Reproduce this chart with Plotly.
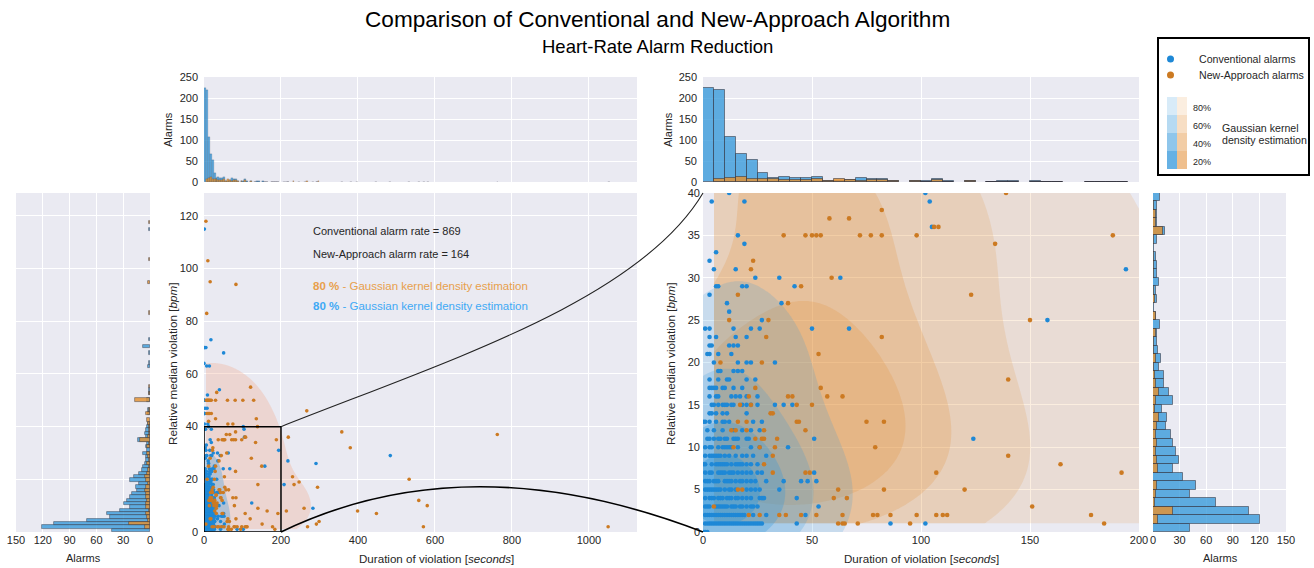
import numpy as np
import plotly.graph_objects as go

W, H = 1314, 568
FONT = "Liberation Sans, Arial, Helvetica, sans-serif"
TXT = "#262626"
BG = "#EAEAF2"

# ------------------------------------------------------------------ data
# Conventional alarms: relative median violation levels (bpm) and the
# durations (s) of the alarms seen at each level
conv_levels = [0, 1, 2, 3, 4, 5, 6, 7, 8, 9, 10, 11, 12, 13, 14, 15, 16, 17, 18, 19, 20,
               21, 22, 23, 24, 25, 26, 27, 28, 29, 30, 31, 32, 33, 34, 35, 36, 39, 40, 41,
               45, 47, 50, 52, 54, 63, 64, 68, 70, 73, 115]
conv_x_at_level = [
    [0, 1, 2],
    [1, 2, 3, 4, 5, 6, 7, 8, 9, 10, 11, 12, 13, 14, 15, 16, 17, 18, 19, 20, 21, 22, 23, 24, 25, 26, 27, 43, 86, 102],
    [1, 2, 3, 4, 5, 6, 7, 8, 9, 10, 11, 12, 13, 14, 15, 16, 17, 18, 19, 23, 29, 47],
    [1, 2, 3, 6, 7, 8, 9, 10, 11, 13, 14, 15, 17, 18, 20, 22, 23, 25, 53],
    [1, 3, 4, 5, 7, 8, 9, 11, 12, 13, 15, 16, 18, 20, 22, 26, 27, 28, 43],
    [1, 2, 3, 4, 5, 6, 7, 8, 10, 12, 13, 15, 20, 22, 24, 26, 35],
    [1, 2, 3, 5, 6, 7, 10, 11, 12, 13, 15, 17, 18, 20, 22, 24, 29, 37, 45, 48, 52],
    [1, 3, 4, 7, 8, 9, 10, 12, 13, 14, 16, 18, 20, 22, 25, 27, 51],
    [0, 1, 4, 6, 7, 8, 9, 10, 11, 13, 15, 16, 17, 18, 20, 22, 25],
    [1, 3, 4, 5, 6, 7, 8, 10, 12, 15, 18, 20, 23, 29, 283],
    [1, 3, 4, 7, 9, 10, 11, 12, 13, 16, 22, 26, 39],
    [2, 3, 5, 7, 8, 10, 11, 14, 15, 16, 20, 21, 51, 124],
    [2, 5, 9, 14, 18, 22, 26],
    [0, 1, 3, 6, 9, 10, 12, 23, 27],
    [3, 4, 6, 9, 11, 20],
    [4, 5, 7, 9, 10, 11, 13, 14, 18, 20, 22, 25, 33, 37, 41],
    [3, 6, 7, 13, 15, 17, 20, 25],
    [3, 4, 5, 6, 9, 10, 14, 18],
    [3, 7, 11, 12, 20, 24, 208],
    [7, 8, 14, 16, 18],
    [5, 16, 20, 22, 33],
    [2, 3, 7, 13],
    [3, 4, 12, 14, 16],
    [3, 6, 15, 20],
    [1, 3, 14, 22, 26, 50, 67],
    [27, 158],
    [12, 291],
    [11, 36, 218],
    [3],
    [6, 7, 18, 20, 42, 484],
    [24, 35, 63],
    [5, 15, 194],
    [3],
    [6],
    [19],
    [16],
    [105],
    [4, 19, 104],
    [12, 102],
    [1, 10],
    [1, 2],
    [3, 8],
    [0, 1, 2],
    [9],
    [40],
    [7, 14],
    [0],
    [51],
    [1, 5],
    [18],
    [1],
]

# New-Approach alarms
new_levels = [1, 2, 3, 4, 5, 7, 8, 9, 10, 11, 12, 13, 14, 15, 16, 17, 18, 19, 20, 21, 23,
              25, 27, 28, 29, 30, 31, 32, 34, 35, 36, 37, 38, 40, 41, 42, 43, 45, 46, 50,
              53, 55, 83, 94, 95, 103, 118]
new_x_at_level = [
    [62, 64, 65, 71, 95, 184],
    [21, 26, 35, 38, 45, 52, 64, 78, 80, 86, 98, 107, 110, 112, 178, 269, 570, 1050],
    [5, 151, 292],
    [60, 66, 299],
    [16, 18, 62, 83, 120],
    [32, 47, 49, 107, 192, 448],
    [28, 164, 214, 399],
    [32, 140, 260],
    [14, 26, 33, 79, 580],
    [24, 27, 28, 34],
    [13, 15, 20, 28, 47, 558],
    [16, 20, 43, 44, 75, 83],
    [31, 32],
    [17, 22, 43, 50],
    [21, 39, 41, 57, 64],
    [24, 54, 295],
    [140, 234],
    [247],
    [8, 27, 533],
    [53, 230],
    [29, 82],
    [12, 30, 150],
    [39],
    [16, 123],
    [45],
    [59],
    [22],
    [23, 380],
    [134],
    [37, 47, 50, 52, 54, 72, 77, 82, 98, 188],
    [106, 108, 219],
    [58, 67, 762],
    [82, 358],
    [139],
    [62, 75],
    [12],
    [30, 136],
    [8, 11, 14, 19],
    [267],
    [6, 8, 10, 12, 14, 16, 19, 30, 61, 81, 101, 129],
    [33],
    [121],
    [7],
    [83],
    [16],
    [10],
    [5],
]

# Histogram of duration, 5 s bins from 0 to 200 s
dur_bin_width = 5
conv_dur_counts = [224, 218, 106, 66, 52, 22, 10, 13, 10, 9, 13, 3, 2, 4, 9, 6, 6, 3, 0, 2,
                   3, 6, 2, 0, 2, 0, 1, 2, 2, 0, 2, 1, 1, 0, 0, 1, 1, 1, 1, 0]
new_dur_counts = [0, 8, 9, 13, 8, 8, 8, 5, 5, 5, 6, 2, 6, 4, 2, 5, 5, 2, 0, 2,
                  1, 4, 1, 0, 2, 0, 1, 1, 1, 0, 1, 1, 1, 0, 0, 1, 1, 1, 1, 0]

# Histogram of violation, 1 bpm bins from 0 to 40 bpm (zoomed view)
viol_bin_width = 1
conv_viol_counts = [42, 121, 108, 71, 42, 48, 34, 22, 29, 26, 22, 20, 15, 16, 10, 22, 18, 12, 12, 7,
                    9, 6, 5, 5, 8, 3, 1, 4, 3, 7, 5, 4, 3, 1, 4, 13, 5, 4, 5, 8]
new_viol_counts = [0, 6, 23, 2, 3, 5, 0, 6, 4, 3, 5, 3, 5, 7, 2, 3, 7, 3, 2, 1,
                   3, 1, 1, 3, 0, 3, 0, 2, 1, 0, 1, 1, 1, 0, 1, 11, 3, 3, 1, 0]

# Histogram of violation over the full range (left panel)
left_bin_width = 1.27
conv_left_counts = ([42, 121, 107, 71, 45, 48, 34, 22, 29, 26, 22, 20, 15, 16, 12, 22, 18, 12, 9, 8,
                     6, 5, 5, 8, 3, 4, 3, 13, 4, 6, 4, 3]
                    + [2, 0, 0, 2, 2, 0, 0, 3, 0, 1, 1, 0, 0, 0, 0, 0]
                    + [0, 2, 1, 0, 0, 1, 0, 8, 0, 1, 0, 0, 0, 0, 0, 0]
                    + [0] * 16
                    + [0, 0, 0, 0, 0, 0, 0, 0, 0, 0, 1, 0, 0, 0])
new_left_counts = ([0, 6, 23, 2, 3, 5, 1, 5, 4, 3, 5, 4, 6, 5, 2, 5, 6, 3, 2, 1,
                    3, 1, 2, 3, 0, 3, 1, 11, 2, 1, 1, 1]
                   + [2, 3, 0, 4, 1, 0, 0, 17, 0, 1, 0, 1, 0, 0, 0, 0]
                   + [0] * 16
                   + [0, 1, 0, 0, 0, 0, 0, 0, 0, 0, 2, 0, 0, 0, 0, 0]
                   + [0, 1, 0, 0, 0, 0, 0, 0, 0, 0, 0, 0, 1, 0])

conv_rate = 869
new_rate = 164
kde_probs = [0.8, 0.6, 0.4, 0.2]
kde_labels = ["80%", "60%", "40%", "20%"]

# ------------------------------------------------------------------ styles
BLUE_PT = "rgb(30,136,214)"
ORANGE_PT = "rgb(204,122,34)"
BLUE_BAR = "rgba(52,152,219,0.78)"
ORANGE_BAR = "rgba(228,145,48,0.82)"
BAR_EDGE = "rgba(50,50,60,0.55)"
BLUE_RGB = (52, 152, 219)
ORANGE_RGB = (226, 140, 50)
MAIN_ORANGE_RGB = (240, 168, 140)
BLUE_ALPHAS = [0.19, 0.21, 0.30, 0.45]
ORANGE_ALPHAS = [0.15, 0.16, 0.21, 0.21]
# kernels: conventional uses a fixed diagonal bandwidth, New-Approach uses
# Scott's rule on the (weighted) data covariance
CONV_BW = (25, 5.2)
NEW_BW_ADJUST = 0.85

# panel pixel boxes: (left, right, top, bottom)
LH = (16, 150, 193, 532)
MN = (204, 637, 193, 532)
TL = (204, 637, 77, 182)
TR = (703, 1139, 77, 182)
ZM = (703, 1139, 193, 532)
RH = (1153, 1286, 193, 532)
MAIN_XR = [0, 1125]
MAIN_YR = [0, 128.7]


def px(v):
    return v / W


def py(v):
    return 1 - v / H


def flatten(levels, rows):
    xs, ys = [], []
    for lv, row in zip(levels, rows):
        xs += row
        ys += [lv] * len(row)
    return np.array(xs, float), np.array(ys, float)


conv_x, conv_y = flatten(conv_levels, conv_x_at_level)
new_x, new_y = flatten(new_levels, new_x_at_level)

far_edges = np.arange(200, MAIN_XR[1] + dur_bin_width, dur_bin_width)
conv_far, _ = np.histogram(conv_x[conv_x >= 200], bins=far_edges)
new_far, _ = np.histogram(new_x[new_x >= 200], bins=far_edges)
conv_dur_all = np.concatenate([conv_dur_counts, conv_far]).astype(float)
new_dur_all = np.concatenate([new_dur_counts, new_far]).astype(float)
dur_centers = np.arange(len(conv_dur_all)) * dur_bin_width + dur_bin_width / 2


def marginal_weights(xs, ys, xw, xcounts, yw, ycounts, iters=60):
    """Spread the histogram counts over the visible (overlapping) points."""
    xcounts = np.asarray(xcounts, float)
    ycounts = np.asarray(ycounts, float)
    xi = np.clip((xs // xw).astype(int), 0, len(xcounts) - 1)
    yi = np.clip((ys // yw).astype(int), 0, len(ycounts) - 1)
    xt = np.maximum(xcounts, 0.5)
    yt = np.maximum(ycounts, 0.5)
    w = np.ones(len(xs))
    for _ in range(iters):
        cs = np.bincount(xi, weights=w, minlength=len(xt))
        w *= (xt / np.where(cs > 0, cs, 1))[xi]
        rs = np.bincount(yi, weights=w, minlength=len(yt))
        w *= (yt / np.where(rs > 0, rs, 1))[yi]
    return w


def grid(lo, hi, split, n1, n2):
    a = np.linspace(lo, min(split, hi), n1)
    if hi <= split:
        return a
    return np.concatenate([a, np.linspace(split, hi, n2)[1:]])


def kde(xs, ys, w, kcov, gx, gy):
    inv = np.linalg.inv(kcov)
    z = np.empty((len(gy), len(gx)))
    dx = gx[:, None] - xs[None, :]
    for i, yv in enumerate(gy):
        dy = (yv - ys)[None, :]
        q = inv[0, 0] * dx * dx + 2 * inv[0, 1] * dx * dy + inv[1, 1] * dy * dy
        z[i] = np.exp(-0.5 * q) @ w
    return z


def scott_cov(xs, ys, w, adjust):
    wn = w / w.sum()
    n_eff = 1.0 / (wn ** 2).sum()
    c = np.cov(np.vstack([xs, ys]), aweights=w)
    return c * (n_eff ** (-1 / 6) * adjust) ** 2


def hdr(z, gx, gy, probs):
    def sizes(g):
        e = np.concatenate([[g[0]], (g[1:] + g[:-1]) / 2, [g[-1]]])
        return np.diff(e)
    area = np.outer(sizes(gy), sizes(gx))
    zf = z.ravel()
    order = np.argsort(zf)[::-1]
    c = np.cumsum((z * area).ravel()[order])
    c /= c[-1]
    return [zf[order][min(np.searchsorted(c, p), zf.size - 1)] for p in probs]


def fills(gx, gy, z, levels, rgb, alphas, xa, ya):
    out = []
    for lv, a in zip(levels, alphas):
        out.append(go.Contour(
            x=gx, y=gy, z=z, xaxis=xa, yaxis=ya, showscale=False, hoverinfo="skip",
            contours=dict(type="constraint", operation="<", value=lv),
            fillcolor=f"rgba({rgb[0]},{rgb[1]},{rgb[2]},{a})",
            line=dict(width=0, color="rgba(0,0,0,0)")))
    return out


# ---------------- KDEs (one per series, on all the alarms)
wn = marginal_weights(new_x, new_y, dur_bin_width, new_dur_all, left_bin_width, new_left_counts)
wc = marginal_weights(conv_x, conv_y, dur_bin_width, conv_dur_all, left_bin_width, conv_left_counts)

gxn = grid(new_x.min(), new_x.max(), 260, 240, 90)
gyn = np.linspace(new_y.min(), new_y.max(), 260)
zn = kde(new_x, new_y, wn, scott_cov(new_x, new_y, wn, NEW_BW_ADJUST), gxn, gyn)
lev_n = hdr(zn, gxn, gyn, kde_probs)

gxc = grid(conv_x.min(), conv_x.max(), 260, 240, 60)
gyc = np.linspace(conv_y.min(), conv_y.max(), 260)
zc = kde(conv_x, conv_y, wc, np.diag([CONV_BW[0] ** 2, CONV_BW[1] ** 2]), gxc, gyc)
lev_c = hdr(zc, gxc, gyc, kde_probs)

fig = go.Figure()
# main view: the 80 % regions
fig.add_traces(fills(gxn, gyn, zn, lev_n[:1], MAIN_ORANGE_RGB, [0.32], "x2", "y2"))
fig.add_traces(fills(gxc, gyc, zc, lev_c[:1], BLUE_RGB, [0.32], "x2", "y2"))
# zoomed view: 80/60/40/20 % regions
fig.add_traces(fills(gxn, gyn, zn, lev_n, ORANGE_RGB, ORANGE_ALPHAS, "x5", "y5"))
fig.add_traces(fills(gxc, gyc, zc, lev_c, BLUE_RGB, BLUE_ALPHAS, "x5", "y5"))

# ---------------- scatter
for xa, ya, size in (("x2", "y2", 3.6), ("x5", "y5", 4.6)):
    fig.add_trace(go.Scatter(x=conv_x, y=conv_y, mode="markers", xaxis=xa, yaxis=ya,
                             marker=dict(color=BLUE_PT, size=size, line=dict(width=0)),
                             showlegend=False, hoverinfo="skip"))
    fig.add_trace(go.Scatter(x=new_x, y=new_y, mode="markers", xaxis=xa, yaxis=ya,
                             marker=dict(color=ORANGE_PT, size=size, line=dict(width=0)),
                             showlegend=False, hoverinfo="skip"))


# ---------------- histograms
def vbar(centers, counts, width, color, xa, ya, lw):
    counts = np.asarray(counts, float)
    m = counts > 0
    return go.Bar(x=np.asarray(centers)[m], y=counts[m], width=width, xaxis=xa, yaxis=ya,
                  marker=dict(color=color, line=dict(color=BAR_EDGE, width=lw)),
                  showlegend=False, hoverinfo="skip")


def hbar(centers, counts, width, color, xa, ya, lw):
    counts = np.asarray(counts, float)
    m = counts > 0
    return go.Bar(y=np.asarray(centers)[m], x=counts[m], width=width, orientation="h",
                  xaxis=xa, yaxis=ya,
                  marker=dict(color=color, line=dict(color=BAR_EDGE, width=lw)),
                  showlegend=False, hoverinfo="skip")


# top-left (full duration range)
fig.add_trace(vbar(dur_centers, conv_dur_all, dur_bin_width, BLUE_BAR, "x3", "y3", 0.3))
fig.add_trace(vbar(dur_centers, new_dur_all, dur_bin_width, ORANGE_BAR, "x3", "y3", 0.3))
# top-right (0-200 s)
c200 = dur_centers[:len(conv_dur_counts)]
fig.add_trace(vbar(c200, conv_dur_counts, dur_bin_width, BLUE_BAR, "x4", "y4", 1))
fig.add_trace(vbar(c200, new_dur_counts, dur_bin_width, ORANGE_BAR, "x4", "y4", 1))
# right (0-40 bpm)
vc = np.arange(len(conv_viol_counts)) * viol_bin_width + viol_bin_width / 2
fig.add_trace(hbar(vc, conv_viol_counts, viol_bin_width, BLUE_BAR, "x6", "y6", 1))
fig.add_trace(hbar(vc, new_viol_counts, viol_bin_width, ORANGE_BAR, "x6", "y6", 1))
# left (full range)
lc = np.arange(len(conv_left_counts)) * left_bin_width + left_bin_width / 2
fig.add_trace(hbar(lc, conv_left_counts, left_bin_width, BLUE_BAR, "x", "y", 0.8))
fig.add_trace(hbar(lc, new_left_counts, left_bin_width, ORANGE_BAR, "x", "y", 0.8))


# ---------------- axes
def axis(box, horiz, anchor, **kw):
    dom = [px(box[0]), px(box[1])] if horiz else [py(box[3]), py(box[2])]
    d = dict(domain=dom, anchor=anchor, showgrid=True, gridcolor="white", gridwidth=1,
             zeroline=False, showline=False, ticks="", automargin=False,
             tickfont=dict(family=FONT, size=11, color=TXT))
    d.update(kw)
    return d


layout_axes = dict(
    xaxis=axis(LH, True, "y", range=[150, 0], tickvals=[0, 30, 60, 90, 120, 150]),
    yaxis=axis(LH, False, "x", range=MAIN_YR, dtick=20, showticklabels=False),
    xaxis2=axis(MN, True, "y2", range=MAIN_XR, dtick=200),
    yaxis2=axis(MN, False, "x2", range=MAIN_YR, dtick=20, ticklabelstandoff=5),
    xaxis3=axis(TL, True, "y3", range=MAIN_XR, dtick=200, showticklabels=False),
    yaxis3=axis(TL, False, "x3", range=[0, 250], dtick=50, ticklabelstandoff=5),
    xaxis4=axis(TR, True, "y4", range=[0, 200], dtick=50, showticklabels=False),
    yaxis4=axis(TR, False, "x4", range=[0, 250], dtick=50, ticklabelstandoff=5),
    xaxis5=axis(ZM, True, "y5", range=[0, 200], dtick=50),
    yaxis5=axis(ZM, False, "x5", range=[0, 40], dtick=5, ticklabelstandoff=2),
    xaxis6=axis(RH, True, "y6", range=[0, 150], tickvals=[0, 30, 60, 90, 120, 150]),
    yaxis6=axis(RH, False, "x6", range=[0, 40], dtick=5, showticklabels=False),
)

# ---------------- annotations
ann = []


def text(x, y, s, size=11, color=TXT, xanchor="center", angle=0):
    ann.append(dict(x=px(x), y=py(y), xref="paper", yref="paper", text=s, showarrow=False,
                    xanchor=xanchor, yanchor="middle", textangle=angle,
                    font=dict(family=FONT, size=size, color=color)))


text(657, 20, "Comparison of Conventional and New-Approach Algorithm", size=22.6, color="black")
text(657, 46, "Heart-Rate Alarm Reduction", size=18.5, color="black")
text(83, 558, "Alarms")
text(436, 558, "Duration of violation [<i>seconds</i>]", size=11.6)
text(921, 558, "Duration of violation [<i>seconds</i>]", size=11.6)
text(1220, 558, "Alarms")
text(172, 364, "Relative median violation [<i>bpm</i>]", size=11.7, angle=-90)
text(670, 364, "Relative median violation [<i>bpm</i>]", size=11.7, angle=-90)
text(168, 130, "Alarms", angle=-90)
text(668, 130, "Alarms", angle=-90)
text(311, 231, f"Conventional alarm rate = {conv_rate}", xanchor="left")
text(311, 254, f"New-Approach alarm rate = {new_rate}", xanchor="left")
text(311, 286, "<b>80 %</b> - Gaussian kernel density estimation", size=11.5, color="#E8A04C", xanchor="left")
text(311, 306, "<b>80 %</b> - Gaussian kernel density estimation", size=11.5, color="#3FA9F5", xanchor="left")

# legend box content
text(1197, 59, "Conventional alarms", size=10.6, xanchor="left")
text(1197, 75, "New-Approach alarms", size=10.6, xanchor="left")
text(1220, 128, "Gaussian kernel", size=10.6, xanchor="left")
text(1220, 140, "density estimation", size=10.6, xanchor="left")

shapes = []
shapes.append(dict(type="rect", xref="paper", yref="paper", x0=px(1158), x1=px(1309),
                   y0=py(175), y1=py(38), line=dict(color="black", width=2)))
for yc, col in ((59, BLUE_PT), (75, ORANGE_PT)):
    shapes.append(dict(type="circle", xref="paper", yref="paper", x0=px(1167), x1=px(1174),
                       y0=py(yc + 3.5), y1=py(yc - 3.5), fillcolor=col, line=dict(width=0)))


def stacked_on_white(rgb, alphas, k):
    c = np.array([255.0, 255.0, 255.0])
    for a in alphas[:k + 1]:
        c = a * np.array(rgb, float) + (1 - a) * c
    return "rgb(%d,%d,%d)" % tuple(np.round(c))


row_top = 97
row_h = 18
for k, lab in enumerate(kde_labels):
    y0 = row_top + k * row_h
    for xa_, xb_, rgb, al in ((1167, 1177, BLUE_RGB, BLUE_ALPHAS), (1177, 1187, ORANGE_RGB, ORANGE_ALPHAS)):
        shapes.append(dict(type="rect", xref="paper", yref="paper", x0=px(xa_), x1=px(xb_),
                           y0=py(y0 + row_h), y1=py(y0), fillcolor=stacked_on_white(rgb, al, k),
                           line=dict(width=0)))
    text(1191, y0 + 11, lab, size=9, xanchor="left")

# zoom rectangle on the main view
shapes.append(dict(type="rect", xref="x2", yref="y2", x0=0, x1=200, y0=0, y1=40,
                   line=dict(color="black", width=1.5)))


# connecting curves (pixel geometry derived from the axes)
def main_px(xv, yv):
    return (MN[0] + (xv - MAIN_XR[0]) / (MAIN_XR[1] - MAIN_XR[0]) * (MN[1] - MN[0]),
            MN[3] - (yv - MAIN_YR[0]) / (MAIN_YR[1] - MAIN_YR[0]) * (MN[3] - MN[2]))


ax0, ay0 = main_px(200, 40)
bx, by = ZM[0], ZM[2]
dx, dy = bx - ax0, by - ay0
c1 = (ax0 + 0.40 * dx, ay0 + 0.286 * dy)
c2 = (ax0 + 0.85 * dx, ay0 + 0.543 * dy)
shapes.append(dict(type="path", xref="paper", yref="paper", line=dict(color="#222", width=1.1),
                   path=f"M {px(ax0)},{py(ay0)} C {px(c1[0])},{py(c1[1])} {px(c2[0])},{py(c2[1])} {px(bx)},{py(by)}"))
lx0, ly0 = main_px(200, 0)
lx1, ly1 = ZM[0], ZM[3]
qc = (lx0 + 0.443 * (lx1 - lx0), ly0 - 90.5)
shapes.append(dict(type="path", xref="paper", yref="paper", line=dict(color="black", width=1.6),
                   path=f"M {px(lx0)},{py(ly0)} Q {px(qc[0])},{py(qc[1])} {px(lx1)},{py(ly1)}"))

fig.update_layout(
    width=W, height=H, margin=dict(l=0, r=0, t=0, b=0, pad=0, autoexpand=False), autosize=False,
    paper_bgcolor="white", plot_bgcolor=BG, barmode="overlay", bargap=0,
    showlegend=False, annotations=ann, shapes=shapes,
    font=dict(family=FONT, size=11, color=TXT),
    **layout_axes,
)

fig.write_html("out.html", config={"displayModeBar": False},
               post_script="document.body.style.margin='0';")
